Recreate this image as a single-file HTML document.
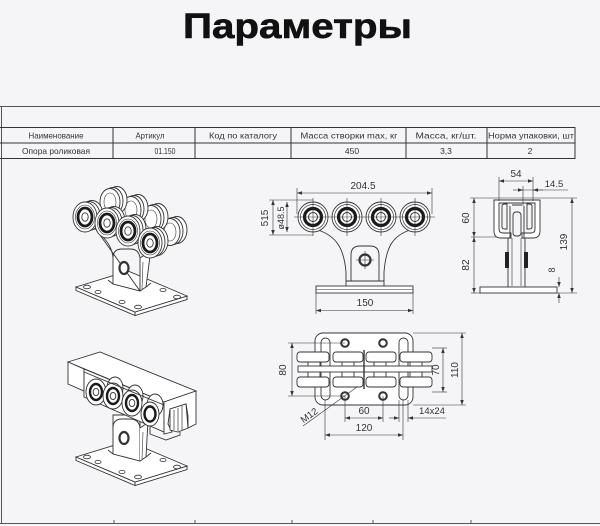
<!DOCTYPE html>
<html><head><meta charset="utf-8"><style>
html,body{margin:0;padding:0;background:#f5f5f7;}
svg{display:block}
</style></head><body>
<svg width="600" height="526" viewBox="0 0 600 526" xmlns="http://www.w3.org/2000/svg" font-family="Liberation Sans, sans-serif">
<defs>
<marker id="a" viewBox="0 0 10 10" refX="10" refY="5" markerUnits="userSpaceOnUse" markerWidth="5" markerHeight="5" orient="auto-start-reverse"><path d="M0,1.5 L10,5 L0,8.5 z" fill="#333"/></marker>
</defs>
<rect width="600" height="526" fill="#f5f5f7"/>
<text x="183" y="38" font-size="35" font-weight="bold" textLength="229" lengthAdjust="spacingAndGlyphs" fill="#111" stroke="#111" stroke-width="0.6">Параметры</text>

<!-- frame -->
<g stroke="#555" stroke-width="1" fill="none">
<line x1="0" y1="106.5" x2="600" y2="106.5"/>
<line x1="1.5" y1="106" x2="1.5" y2="524"/>
<line x1="0" y1="523.5" x2="600" y2="523.5"/>
<line x1="114" y1="520" x2="114" y2="524"/>
<line x1="195" y1="520" x2="195" y2="524"/>
<line x1="292" y1="520" x2="292" y2="524"/>
<line x1="373" y1="520" x2="373" y2="524"/>
<line x1="471" y1="520" x2="471" y2="524"/>
</g>

<!-- table -->
<g stroke="#333" stroke-width="1" fill="none">
<line x1="0" y1="127.5" x2="575" y2="127.5"/>
<line x1="0" y1="143" x2="575" y2="143"/>
<line x1="0" y1="158.5" x2="575" y2="158.5"/>
<line x1="113" y1="127" x2="113" y2="159"/>
<line x1="195" y1="127" x2="195" y2="159"/>
<line x1="291" y1="127" x2="291" y2="159"/>
<line x1="406" y1="127" x2="406" y2="159"/>
<line x1="487" y1="127" x2="487" y2="159"/>
<line x1="575" y1="127" x2="575" y2="159"/>
</g>
<g font-size="8.5" fill="#333" text-anchor="middle">
<text x="56" y="138.5" textLength="55" lengthAdjust="spacingAndGlyphs">Наименование</text>
<text x="150" y="138.5" textLength="29" lengthAdjust="spacingAndGlyphs">Артикул</text>
<text x="243" y="138.5" textLength="68" lengthAdjust="spacingAndGlyphs">Код по каталогу</text>
<text x="349" y="138.5" textLength="97" lengthAdjust="spacingAndGlyphs">Масса створки max, кг</text>
<text x="446" y="138.5" textLength="61" lengthAdjust="spacingAndGlyphs">Масса, кг/шт.</text>
<text x="531" y="138.5" textLength="86" lengthAdjust="spacingAndGlyphs">Норма упаковки, шт</text>
<text x="56" y="154" textLength="68" lengthAdjust="spacingAndGlyphs">Опора роликовая</text>
<text x="165" y="154" textLength="21" lengthAdjust="spacingAndGlyphs">01.150</text>
<text x="352" y="154">450</text>
<text x="446" y="154">3,3</text>
<text x="530" y="154">2</text>
</g>

<!-- ================= FRONT VIEW ================= -->
<g stroke="#333" stroke-width="0.9" fill="none">
<path d="M318 230 C336 236 344 248 346 272 L346 286 M410 230 C392 236 386 248 384 272 L384 286" />
<path d="M351 281 L351 255 Q351 246 360 246 L370 246 Q379 246 379 255 L379 281"/>
<line x1="346" y1="281" x2="384" y2="281"/>
<circle cx="365" cy="260" r="5.5" stroke-width="2.2"/>
<line x1="356" y1="260" x2="374" y2="260" stroke-width="0.6"/>
<line x1="365" y1="251" x2="365" y2="269" stroke-width="0.6"/>
<rect x="316" y="286" width="97" height="7" fill="#fff"/>
<line x1="316" y1="289.5" x2="413" y2="289.5" stroke-width="0.5"/>
<g fill="#fff">
<circle cx="313" cy="217" r="15"/><circle cx="347" cy="217" r="15"/><circle cx="381" cy="217" r="15"/><circle cx="415" cy="217" r="15"/>
</g>
<g stroke-width="0.7"><circle cx="313" cy="217" r="12.5"/><circle cx="347" cy="217" r="12.5"/><circle cx="381" cy="217" r="12.5"/><circle cx="415" cy="217" r="12.5"/></g>
<g stroke="#1a1a1a" stroke-width="3.2"><circle cx="313" cy="217" r="8.5"/><circle cx="347" cy="217" r="8.5"/><circle cx="381" cy="217" r="8.5"/><circle cx="415" cy="217" r="8.5"/></g>
<g stroke-width="1"><circle cx="313" cy="217" r="4.5"/><circle cx="347" cy="217" r="4.5"/><circle cx="381" cy="217" r="4.5"/><circle cx="415" cy="217" r="4.5"/></g>
<g stroke-width="0.6">
<line x1="294" y1="217" x2="435" y2="217"/>
<line x1="313" y1="198" x2="313" y2="236"/><line x1="347" y1="198" x2="347" y2="236"/>
<line x1="381" y1="198" x2="381" y2="236"/><line x1="415" y1="198" x2="415" y2="236"/>
<line x1="297" y1="188" x2="297" y2="214"/><line x1="432" y1="188" x2="432" y2="214"/>
<line x1="297" y1="193" x2="432" y2="193" marker-start="url(#a)" marker-end="url(#a)"/>
<line x1="269" y1="200" x2="313" y2="200"/><line x1="269" y1="235" x2="313" y2="235"/>
<line x1="273" y1="200" x2="273" y2="235" marker-start="url(#a)" marker-end="url(#a)"/>
<line x1="287" y1="202" x2="287" y2="232" marker-start="url(#a)" marker-end="url(#a)"/>
<line x1="316" y1="293" x2="316" y2="314"/><line x1="413" y1="293" x2="413" y2="314"/>
<line x1="316" y1="310.5" x2="413" y2="310.5" marker-start="url(#a)" marker-end="url(#a)"/>
</g>
</g>
<g font-size="10" fill="#333" text-anchor="middle">
<text x="363" y="189">204.5</text>
<text x="365" y="306">150</text>
<text transform="translate(268,218) rotate(-90)">515</text>
<text transform="translate(284,218) rotate(-90)" font-size="9">ø48.5</text>
</g>

<!-- ================= SIDE VIEW ================= -->
<g stroke="#333" stroke-width="0.9" fill="none">
<rect x="480" y="287" width="77" height="6" fill="#fff"/>
<path d="M508 238 L508 287 M525 238 L525 287" />
<rect x="505" y="252" width="4" height="16" fill="#222" stroke="none"/>
<rect x="524" y="252" width="4" height="16" fill="#222" stroke="none"/>
<path d="M512 238 L512 286 M521 238 L521 286" stroke-width="0.6"/>
<path d="M494 200 L494 231 Q494 238 501 238 L511 238 L511 233 L503 233 Q499 233 499 229 L499 203 L535 203 L535 229 Q535 233 531 233 L522 233 L522 238 L533 238 Q540 238 540 231 L540 200 Z" fill="#fff"/>
<path d="M502 206 Q502 204 505 204 L507 204 L507 229 L505 229 Q502 229 502 227 Z"/>
<path d="M532 206 Q532 204 529 204 L527 204 L527 229 L529 229 Q532 229 532 227 Z"/>
<path d="M510 206 L510 238 M524 206 L524 238 M512 205 L522 205"/>
<rect x="513" y="212" width="8" height="24" rx="3"/>
<g stroke-width="0.6">
<line x1="470" y1="198" x2="577" y2="198"/>
<line x1="471" y1="237" x2="496" y2="237"/>
<line x1="471" y1="293" x2="480" y2="293"/>
<line x1="557" y1="293" x2="577" y2="293"/>
<line x1="474" y1="198" x2="474" y2="237" marker-start="url(#a)" marker-end="url(#a)"/>
<line x1="474" y1="237" x2="474" y2="293" marker-start="url(#a)" marker-end="url(#a)"/>
<line x1="572" y1="198" x2="572" y2="293" marker-start="url(#a)" marker-end="url(#a)"/>
<line x1="559" y1="277" x2="559" y2="287" marker-end="url(#a)"/>
<line x1="559" y1="303" x2="559" y2="293" marker-end="url(#a)"/>
<line x1="499" y1="177" x2="499" y2="201"/><line x1="533" y1="177" x2="533" y2="201"/>
<line x1="499" y1="181" x2="533" y2="181" marker-start="url(#a)" marker-end="url(#a)"/>
<line x1="523" y1="186" x2="523" y2="206"/>
<line x1="523" y1="190" x2="568" y2="190"/>
<line x1="513" y1="190" x2="523" y2="190" marker-end="url(#a)"/>
<line x1="543" y1="190" x2="533" y2="190" marker-end="url(#a)"/>
</g>
</g>
<g font-size="10" fill="#333" text-anchor="middle">
<text x="516" y="177">54</text>
<text x="554" y="187" font-size="9.5">14.5</text>
<text transform="translate(469,218) rotate(-90)">60</text>
<text transform="translate(469,265) rotate(-90)">82</text>
<text transform="translate(567,242) rotate(-90)">139</text>
<text transform="translate(555,270) rotate(-90)" font-size="9">8</text>
</g>

<!-- ================= TOP VIEW ================= -->
<g stroke="#333" stroke-width="0.9" fill="none">
<rect x="315" y="333" width="98" height="72" rx="8" fill="#fff"/>
<rect x="321" y="338" width="9" height="62" rx="4.5"/>
<rect x="399" y="338" width="9" height="62" rx="4.5"/>
<g stroke-width="2"><circle cx="345" cy="343" r="3.8"/><circle cx="383" cy="343" r="3.8"/><circle cx="345" cy="396" r="3.8"/><circle cx="383" cy="396" r="3.8"/></g>
<g fill="#fff">
<rect x="308" y="360" width="12" height="18"/><rect x="342" y="360" width="12" height="18"/>
<rect x="374" y="360" width="12" height="18"/><rect x="410" y="360" width="12" height="18"/>
<rect x="298" y="366" width="134" height="6"/>
<rect x="297" y="352" width="32" height="10" rx="3"/><rect x="333" y="352" width="30" height="10" rx="3"/>
<rect x="366" y="352" width="30" height="10" rx="3"/><rect x="400" y="352" width="32" height="10" rx="3"/>
<rect x="297" y="377" width="32" height="10" rx="3"/><rect x="333" y="377" width="30" height="10" rx="3"/>
<rect x="366" y="377" width="30" height="10" rx="3"/><rect x="400" y="377" width="32" height="10" rx="3"/>
</g>
<line x1="364" y1="350" x2="364" y2="389" stroke-width="1.4"/>
<g stroke-width="0.6">
<line x1="288" y1="343" x2="345" y2="343"/><line x1="288" y1="396" x2="345" y2="396"/>
<line x1="292" y1="343" x2="292" y2="396" marker-start="url(#a)" marker-end="url(#a)"/>
<line x1="432" y1="348" x2="447" y2="348"/><line x1="432" y1="392" x2="447" y2="392"/>
<line x1="443" y1="348" x2="443" y2="392" marker-start="url(#a)" marker-end="url(#a)"/>
<line x1="413" y1="333" x2="466" y2="333"/><line x1="413" y1="405" x2="466" y2="405"/>
<line x1="462" y1="333" x2="462" y2="405" marker-start="url(#a)" marker-end="url(#a)"/>
<line x1="357" y1="387" x2="303" y2="426"/>
<line x1="345" y1="396" x2="345" y2="422"/><line x1="383" y1="396" x2="383" y2="422"/>
<line x1="345" y1="418" x2="383" y2="418" marker-start="url(#a)" marker-end="url(#a)"/>
<line x1="325" y1="400" x2="325" y2="440"/><line x1="403" y1="400" x2="403" y2="440"/>
<line x1="325" y1="435" x2="403" y2="435" marker-start="url(#a)" marker-end="url(#a)"/>
<line x1="399" y1="400" x2="399" y2="422"/><line x1="408" y1="400" x2="408" y2="422"/>
<line x1="389" y1="418" x2="399" y2="418" marker-end="url(#a)"/>
<line x1="446" y1="418" x2="408" y2="418" marker-end="url(#a)"/>
</g>
</g>
<g font-size="10" fill="#333" text-anchor="middle">
<text transform="translate(286,370) rotate(-90)">80</text>
<text transform="translate(439,370) rotate(-90)">70</text>
<text transform="translate(458,370) rotate(-90)">110</text>
<text transform="translate(311,418) rotate(-36)" font-size="9.5">M12</text>
<text x="364" y="414">60</text>
<text x="364" y="431">120</text>
<text x="432" y="414" font-size="9.5">14x24</text>
</g>

<!-- ================= ISO VIEW 1 ================= -->
<g stroke="#333" stroke-width="0.9" fill="#fff">
<polygon points="76,287 135,312 135,315.5 76,290.5"/>
<polygon points="135,312 187,296 187,299.5 135,315.5"/>
<polygon points="76,287 128,271 187,296 135,312"/>
<g stroke-width="0.8">
<ellipse cx="87" cy="287" rx="3.5" ry="1.8"/><ellipse cx="98" cy="292" rx="3" ry="1.6"/>
<ellipse cx="122" cy="302" rx="3" ry="1.6"/><ellipse cx="138" cy="307" rx="3.5" ry="1.8"/>
<ellipse cx="163" cy="290" rx="3" ry="1.6"/><ellipse cx="177" cy="297" rx="3.5" ry="1.8"/>
</g>
<!-- back rollers -->
<g id="br">
<ellipse cx="177" cy="230" rx="10" ry="13.5"/>
<ellipse cx="173" cy="231" rx="10" ry="13.5"/>
<ellipse cx="170" cy="232" rx="10" ry="13.5"/>
<ellipse cx="170" cy="232" rx="6" ry="9" fill="none" stroke-width="0.6"/>
</g>
<use href="#br" transform="translate(-19,-13)"/>
<use href="#br" transform="translate(-39,-22)"/>
<use href="#br" transform="translate(-60,-30)"/>
<!-- bracket -->
<path d="M95 228 C106 240 112 246 113 258 L113 284 L140 291 L140 258 L146 254 L150 256 L146 287 L140 291 Z"/>
<path d="M113 258 Q113 249 122 249 L130 249 Q139 249 140 258" fill="none"/>
<path d="M108 280 L113 284 M146 287 L151 283" fill="none"/>
<line x1="143" y1="262" x2="142" y2="289" stroke-width="0.6"/>
<ellipse cx="124" cy="268" rx="4.5" ry="6" stroke-width="2.2"/>
<!-- front rollers -->
<g id="fr">
<ellipse cx="92" cy="215" rx="11" ry="14.5"/>
<ellipse cx="89" cy="216" rx="11" ry="14.5"/>
<ellipse cx="85" cy="217" rx="12" ry="15"/>
<ellipse cx="85" cy="217" rx="9.5" ry="12" fill="none" stroke-width="0.6"/>
<ellipse cx="85" cy="217" rx="7" ry="9" fill="none" stroke="#1a1a1a" stroke-width="2.8"/>
<ellipse cx="85" cy="217" rx="3.2" ry="4.2"/>
</g>
<use href="#fr" transform="translate(22,6)"/>
<use href="#fr" transform="translate(43,14)"/>
<use href="#fr" transform="translate(65,26)"/>
</g>

<!-- ================= ISO VIEW 2 ================= -->
<g stroke="#333" stroke-width="0.9" fill="#fff">
<g transform="translate(0,170)">
<polygon points="76,287 135,312 135,315.5 76,290.5"/>
<polygon points="135,312 187,296 187,299.5 135,315.5"/>
<polygon points="76,287 128,271 187,296 135,312"/>
<g stroke-width="0.8">
<ellipse cx="87" cy="287" rx="3.5" ry="1.8"/><ellipse cx="98" cy="292" rx="3" ry="1.6"/>
<ellipse cx="122" cy="302" rx="3" ry="1.6"/><ellipse cx="138" cy="307" rx="3.5" ry="1.8"/>
<ellipse cx="163" cy="290" rx="3" ry="1.6"/><ellipse cx="177" cy="297" rx="3.5" ry="1.8"/>
</g>
<path d="M113 245 L113 284 L140 291 L140 245 Z"/>
<path d="M113 258 Q113 249 122 249 L130 249 Q139 249 140 258" fill="none"/>
<path d="M140 258 L146 254 L148 250 L146 287 L140 291" />
<path d="M108 280 L113 284 M146 287 L151 283" fill="none"/>
<line x1="143" y1="262" x2="142" y2="289" stroke-width="0.6"/>
<ellipse cx="124" cy="268" rx="4.5" ry="6" stroke-width="2.2"/>
</g>
<polygon points="68,362 100,352 196,391 164,402"/>
<polygon points="68,362 84,369 84,391 68,384"/>
<polygon points="84,369 164,402 164,432 84,397"/>
<g>
<ellipse cx="135" cy="396" rx="8" ry="11"/>
<ellipse cx="155" cy="405" rx="8" ry="11"/>
<ellipse cx="115" cy="388" rx="8" ry="11"/>
</g>
<g>
<ellipse cx="96" cy="392" rx="10" ry="13"/>
<ellipse cx="96" cy="392" rx="6" ry="8" fill="none" stroke="#1a1a1a" stroke-width="2.4"/>
<ellipse cx="96" cy="392" rx="2.8" ry="3.6"/>
<ellipse cx="113" cy="396" rx="10" ry="13"/>
<ellipse cx="113" cy="396" rx="6" ry="8" fill="none" stroke="#1a1a1a" stroke-width="2.4"/>
<ellipse cx="113" cy="396" rx="2.8" ry="3.6"/>
<ellipse cx="132" cy="403" rx="10" ry="13"/>
<ellipse cx="132" cy="403" rx="6" ry="8" fill="none" stroke="#1a1a1a" stroke-width="2.4"/>
<ellipse cx="132" cy="403" rx="2.8" ry="3.6"/>
<ellipse cx="150" cy="414" rx="9" ry="12"/>
<ellipse cx="150" cy="414" rx="5.5" ry="7.5" fill="none" stroke="#1a1a1a" stroke-width="2.4"/>
</g>
<line x1="84" y1="372" x2="164" y2="405" fill="none"/>
<path d="M164 402 L196 391 L196 424 L188 428 L188 416 L186 404 L170 409 L168 424 L172 432 L164 434 Z"/>
<path d="M170 409 L186 404 L188 428 L178 432 L170 430 Z"/>
<path d="M174 410 L174 430 M178 408 L178 431 M182 406 L182 430" fill="none" stroke-width="0.7"/>
<path d="M150 426 L150 434 L166 440 L180 435 L180 432" fill="none"/>
</g>
</svg>
</body></html>
